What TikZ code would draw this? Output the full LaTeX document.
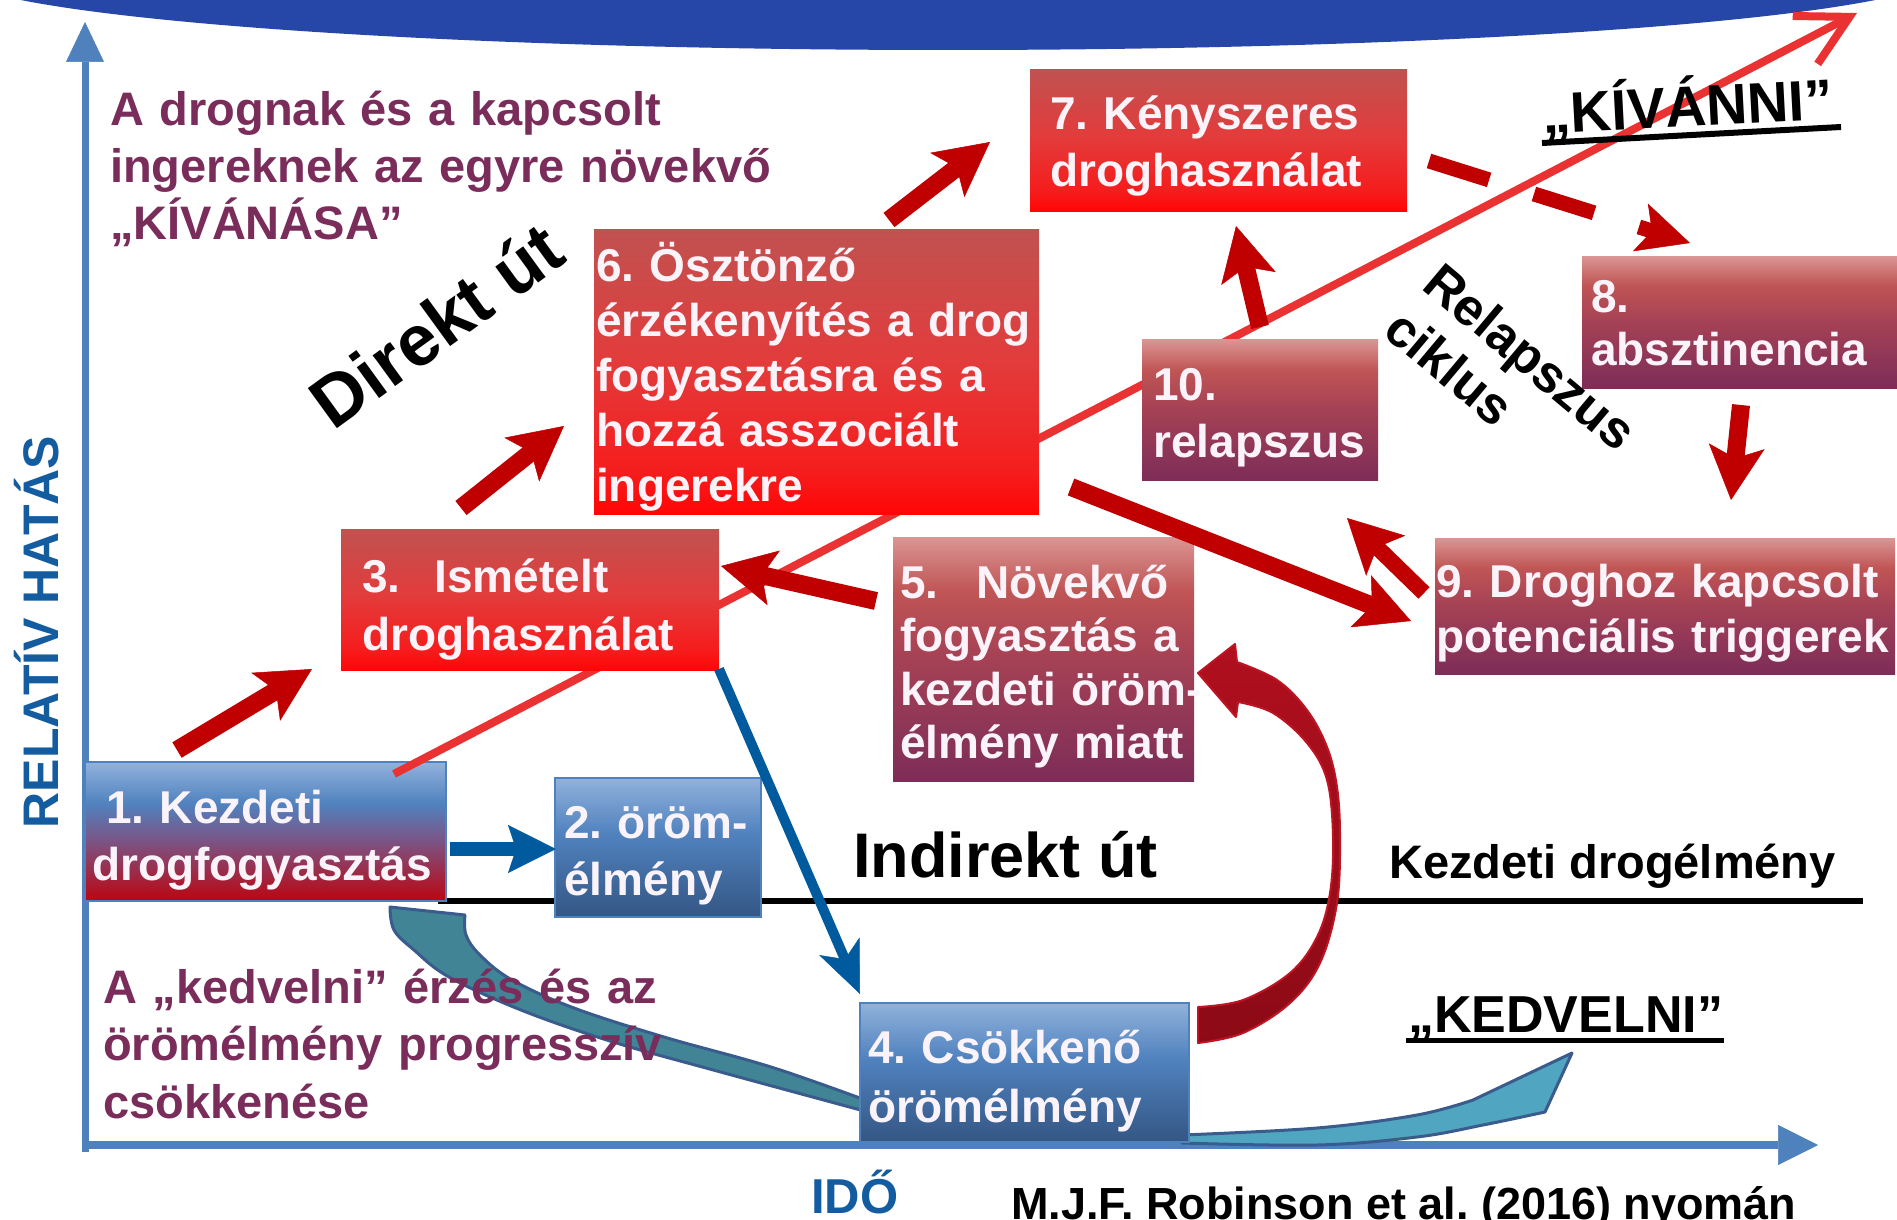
\documentclass[tikz,border=0pt]{standalone}
\usepackage{fontspec}
\setmainfont{Liberation Sans}
\usetikzlibrary{arrows.meta}
\frenchspacing
\definecolor{bandblue}{RGB}{38,71,168}
\definecolor{axisblue}{RGB}{79,129,189}
\definecolor{labelblue}{RGB}{20,92,160}
\definecolor{purp}{RGB}{122,45,90}
\definecolor{darkred}{RGB}{192,0,0}
\definecolor{linered}{RGB}{235,50,50}
\definecolor{arrowblue}{RGB}{0,90,158}
\definecolor{boxwhite}{RGB}{250,244,250}
\definecolor{tealA}{RGB}{65,132,150}
\definecolor{tealB}{RGB}{80,165,192}
\definecolor{tealedge}{RGB}{58,92,140}
\definecolor{curvered}{RGB}{176,15,30}
\definecolor{curvereddark}{RGB}{140,10,22}
\definecolor{curveedge}{RGB}{190,20,35}
\definecolor{rTop}{RGB}{192,82,80}
\definecolor{rMid}{RGB}{226,60,60}
\definecolor{rLow}{RGB}{246,28,28}
\definecolor{rBot}{RGB}{255,5,5}
\definecolor{pTop}{RGB}{218,150,148}
\definecolor{pUp}{RGB}{192,85,85}
\definecolor{pMid}{RGB}{165,65,85}
\definecolor{pBot}{RGB}{125,45,88}
\definecolor{bTop}{RGB}{145,178,220}
\definecolor{bMid}{RGB}{80,130,190}
\definecolor{bBot}{RGB}{52,86,132}
\definecolor{kPur}{RGB}{122,85,135}
\definecolor{kBot}{RGB}{188,5,15}
\pgfdeclareverticalshading{redsh}{100bp}{color(0bp)=(rBot); color(25bp)=(rBot); color(32bp)=(rLow); color(52bp)=(rMid); color(75bp)=(rTop); color(100bp)=(rTop)}
\pgfdeclareverticalshading{pursh}{100bp}{color(0bp)=(pBot); color(25bp)=(pBot); color(50bp)=(pMid); color(64bp)=(pUp); color(75bp)=(pTop); color(100bp)=(pTop)}
\pgfdeclareverticalshading{blush}{100bp}{color(0bp)=(bBot); color(25bp)=(bBot); color(55bp)=(bMid); color(75bp)=(bTop); color(100bp)=(bTop)}
\pgfdeclareverticalshading{kezsh}{100bp}{color(0bp)=(kBot); color(25bp)=(kBot); color(47bp)=(kPur); color(60bp)=(bMid); color(75bp)=(bTop); color(100bp)=(bTop)}
\begin{document}
\begin{tikzpicture}[x=1pt,y=-1pt,
  box/.style={rectangle, inner sep=0pt, outer sep=0pt, anchor=north west},
  redbox/.style={box, shading=redsh},
  purbox/.style={box, shading=pursh},
  blubox/.style={box, shading=blush, draw=axisblue, line width=2pt},
  kezbox/.style={box, shading=kezsh, draw=axisblue, line width=2pt},
  btxt/.style={inner sep=0pt, anchor=base west, align=left, text width=470pt, text=boxwhite, font=\fontsize{46}{57}\selectfont\bfseries},
  ptxt/.style={inner sep=0pt, anchor=base west, align=left, text width=800pt, text=purp, font=\fontsize{47}{57.5}\selectfont\bfseries},
  ltxt/.style={inner sep=0pt, anchor=base west},
  redarrow/.style={draw=darkred, line width=18pt, -{Stealth[length=54pt, width=56pt, inset=12pt, line width=0.5pt]}},
  ribbon/.style={draw=tealedge, line width=3pt, line join=round},
]
\useasboundingbox (0,0) rectangle (1897,1220);
\clip (0,0) rectangle (1897,1220);
\fill[white] (0,0) rectangle (1897,1220);
\fill[bandblue] (948,-30) ellipse [x radius=1000pt, y radius=80pt];

% axes
\coordinate (yorig) at (85,1152);
\coordinate (ytip) at (85,22);
\coordinate (xorig) at (82,1145);
\coordinate (xtip) at (1818,1145);
\draw[axisblue, line width=7pt, -{Triangle[length=40pt, width=38pt, line width=0.5pt]}] (yorig) -- (ytip);
\draw[axisblue, line width=8pt, -{Triangle[length=40pt, width=40pt, line width=0.5pt]}] (xorig) -- (xtip);

% initial drug experience line
\coordinate (bl1) at (438,901);
\coordinate (bl2) at (1863,901);
\draw[black, line width=6pt] (bl1) -- (bl2);

% teal ribbons
\filldraw[ribbon, fill=tealA] (390,907) -- (465,915)
  -- plot[smooth, tension=0.6] coordinates {(465,915) (466,935) (480,955) (512,980) (574,1008) (664,1037) (771,1067) (868,1101)}
  -- (868,1112)
  -- plot[smooth, tension=0.6] coordinates {(868,1112) (717,1071) (610,1041) (521,1010) (449,977) (414,950) (394,930) (390,907)} -- cycle;
\filldraw[ribbon, fill=tealB] (1182,1135)
  -- plot[smooth, tension=0.6] coordinates {(1182,1135) (1317,1128) (1417,1115) (1473,1100)}
  -- (1572,1053) -- (1545,1112)
  -- plot[smooth, tension=0.6] coordinates {(1545,1112) (1483,1125) (1417,1137) (1317,1145) (1182,1143)} -- cycle;

% box 1
\node[kezbox, minimum width=361pt, minimum height=139pt] (b1) at (85,762) {};

% red diagonal
\coordinate (rl1) at (394,774);
\coordinate (rl2) at (1857,13);
\draw[linered, line width=8pt, -{Straight Barb[length=50pt, width=54pt]}] (rl1) -- (rl2);

% boxes
\node[blubox, minimum width=206pt, minimum height=139pt] (b2) at (555,778) {};
\node[redbox, minimum width=378pt, minimum height=141pt] (b3) at (341,529) {};
\node[blubox, minimum width=329pt, minimum height=139pt] (b4) at (860,1003) {};
\node[purbox, minimum width=301pt, minimum height=244pt] (b5) at (893,537) {};
\node[redbox, minimum width=445pt, minimum height=285pt] (b6) at (594,229) {};
\node[redbox, minimum width=377pt, minimum height=141pt] (b7) at (1030,70) {};
\node[purbox, minimum width=320pt, minimum height=132pt] (b8) at (1582,256) {};
\node[purbox, minimum width=460pt, minimum height=136pt] (b9) at (1435,538) {};
\node[purbox, minimum width=236pt, minimum height=141pt] (b10) at (1142,339) {};

% curved red arrow 4 -> 5
\filldraw[top color=curvered, bottom color=curvereddark, draw=curveedge, line width=2pt, line join=round]
  (1198,1007) -- plot[smooth, tension=0.6] coordinates {(1198,1007) (1243,1000) (1290,973) (1317,937) (1330,893) (1333,837) (1327,780) (1307,743) (1273,713) (1238,702)}
  -- (1236,717) -- (1198,673) -- (1235,644) -- (1237,662)
  -- plot[smooth, tension=0.6] coordinates {(1237,662) (1277,680) (1307,710) (1327,747) (1337,787) (1340,837) (1337,903) (1320,963) (1290,1003) (1243,1033) (1198,1043)} -- cycle;

% red block arrows
\coordinate (a1s) at (177,750); \coordinate (a1e) at (312,669);
\coordinate (a2s) at (461,508); \coordinate (a2e) at (564,426);
\coordinate (a3s) at (889,220); \coordinate (a3e) at (990,142);
\coordinate (a4s) at (876,601); \coordinate (a4e) at (721,566);
\coordinate (a5s) at (1260,327); \coordinate (a5e) at (1236,226);
\coordinate (a6s) at (1741,405); \coordinate (a6e) at (1731,500);
\coordinate (a7s) at (1071,487); \coordinate (a7e) at (1411,621);
\coordinate (a8s) at (1424,593); \coordinate (a8e) at (1347,518);
\draw[redarrow] (a1s) -- (a1e);
\draw[redarrow] (a2s) -- (a2e);
\draw[redarrow] (a3s) -- (a3e);
\draw[redarrow] (a4s) -- (a4e);
\draw[redarrow] (a5s) -- (a5e);
\draw[redarrow] (a6s) -- (a6e);
\draw[redarrow] (a7s) -- (a7e);
\draw[redarrow, line width=16pt] (a8s) -- (a8e);

% dashed arrow 7 -> 8
\coordinate (d1) at (1429,161);
\coordinate (d2) at (1690,243);
\draw[darkred, line width=15pt, dash pattern=on 63pt off 47pt, -{Stealth[length=52pt, width=50pt, inset=12pt, line width=0.5pt]}] (d1) -- (d2);

% blue arrows
\coordinate (bb1) at (450,849); \coordinate (bb2) at (556,849);
\draw[arrowblue, line width=14pt, -{Stealth[length=48pt, width=48pt, inset=8pt, line width=0.5pt]}] (bb1) -- (bb2);
\coordinate (bc1) at (719,669); \coordinate (bc2) at (860,994);
\draw[arrowblue, line width=10pt, -{Stealth[length=52pt, width=44pt, inset=14pt, line width=0.5pt]}] (bc1) -- (bc2);

% box texts
\node[btxt] (t1) at (92,823) {\hspace*{14pt}1. Kezdeti\\drogfogyasztás};
\node[btxt] (t2) at (564,838) {2. öröm-\\élmény};
\node[btxt, font=\fontsize{46}{58}\selectfont\bfseries] (t3) at (362,592) {3.\hspace*{34pt}Ismételt\\droghasználat};
\node[btxt, font=\fontsize{46}{59}\selectfont\bfseries] (t4) at (868,1063) {4. Csökkenő\\örömélmény};
\node[btxt, font=\fontsize{46}{53.5}\selectfont\bfseries] (t5) at (900,598) {5.\hspace*{38pt}Növekvő\\fogyasztás a\\kezdeti öröm-\\élmény miatt};
\node[btxt, font=\fontsize{46}{55}\selectfont\bfseries] (t6) at (596,281) {6. Ösztönző\\érzékenyítés a drog\\fogyasztásra és a\\hozzá asszociált\\ingerekre};
\node[btxt] (t7) at (1050,130) {7. Kényszeres\\droghasználat};
\node[btxt, font=\fontsize{46}{53}\selectfont\bfseries] (t8) at (1591,312) {8.\\absztinencia};
\node[btxt, font=\fontsize{46}{55}\selectfont\bfseries] (t9) at (1436,597) {9. Droghoz kapcsolt\\potenciális triggerek};
\node[btxt] (t10) at (1153,400) {10.\\relapszus};

% free texts
\node[ptxt] (tTop) at (110,125) {A drognak és a kapcsolt\\ingereknek az egyre növekvő\\„KÍVÁNÁSA”};
\node[ptxt] (tBot) at (103,1003) {A „kedvelni” érzés és az\\örömélmény progresszív\\csökkenése};
\node[inner sep=0pt, anchor=base, rotate=90, text=labelblue, font=\fontsize{50}{60}\selectfont\bfseries] (tY) at (58,632) {RELATÍV HATÁS};
\node[ltxt, text=labelblue, font=\fontsize{49}{59}\selectfont\bfseries] (tX) at (811,1213) {IDŐ};
\node[ltxt, font=\fontsize{45}{54}\selectfont\bfseries] (tRef) at (1011,1219) {M.J.F. Robinson et al. (2016) nyomán};
\node[ltxt, rotate=36, font=\fontsize{72}{86}\selectfont\bfseries] (tDir) at (333,432) {Direkt út};
\node[ltxt, font=\fontsize{63}{75}\selectfont\bfseries] (tInd) at (853,877) {Indirekt út};
\node[ltxt, font=\fontsize{47}{56}\selectfont\bfseries] (tKezd) at (1389,878) {Kezdeti drogélmény};
\node[ltxt, rotate=-40, align=left, text width=400pt, font=\fontsize{52}{60}\selectfont\bfseries] (tRel) at (1420,288) {Relapszus\\ciklus};
\node[ltxt, rotate=3, font=\fontsize{57}{68}\selectfont\bfseries] (tKiv) at (1543,134) {„KÍVÁNNI”};
\coordinate (ku1) at (1542,143); \coordinate (ku2) at (1841,127);
\draw[black, line width=6pt] (ku1) -- (ku2);
\node[ltxt, font=\fontsize{52}{62}\selectfont\bfseries] (tKed) at (1408,1032) {„KEDVELNI”};
\coordinate (ke1) at (1406,1040); \coordinate (ke2) at (1724,1040);
\draw[black, line width=5pt] (ke1) -- (ke2);
\end{tikzpicture}
\end{document}
